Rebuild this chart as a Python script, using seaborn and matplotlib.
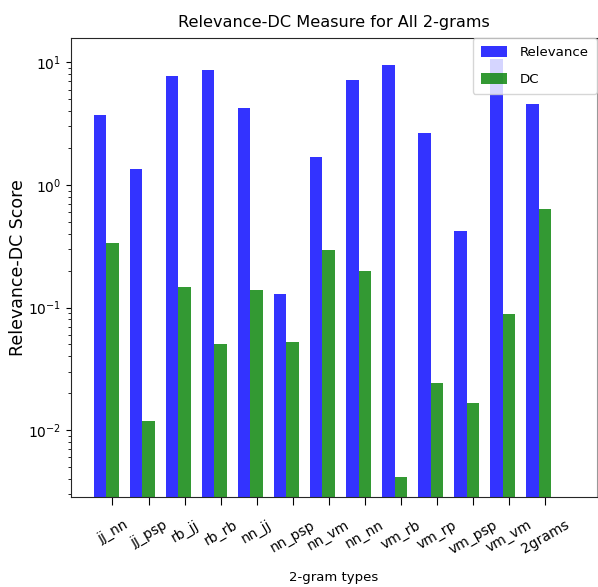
import numpy as np
import pandas as pd
import matplotlib
matplotlib.use("Agg")
import matplotlib.pyplot as plt
import seaborn as sns
from matplotlib.patches import Patch

categories = ["jj_nn", "jj_psp", "rb_jj", "rb_rb", "nn_jj", "nn_psp", "nn_vm",
              "nn_nn", "vm_rb", "vm_rp", "vm_psp", "vm_vm", "2grams"]
relevance = [3.70, 1.36, 7.78, 8.70, 4.27, 0.130, 1.68, 7.21, 9.46, 2.64, 0.418, 10.6, 4.59]
dc = [0.338, 0.0118, 0.146, 0.0507, 0.139, 0.052, 0.293, 0.199, 0.00412, 0.0241, 0.0166, 0.0881, 0.632]

W = 0.35
idx = np.arange(len(categories))
df_rel = pd.DataFrame({"pos": idx.astype(float), "score": relevance})
df_dc = pd.DataFrame({"pos": idx + W, "score": dc})

fig = plt.figure(figsize=(5.98, 5.87), dpi=100)
ax = fig.add_axes([71/598, 1 - 497/587, (597 - 71)/598, (497 - 38)/587])

sns.barplot(data=df_rel, x="pos", y="score", native_scale=True, width=W,
            color="b", saturation=1, alpha=0.8, errorbar=None, linewidth=0, ax=ax)
sns.barplot(data=df_dc, x="pos", y="score", native_scale=True, width=W,
            color="g", saturation=1, alpha=0.8, errorbar=None, linewidth=0, ax=ax)

ax.set_yscale("log")
ax.set_ylim(0.00285, 15.8)
ax.set_xlim(-0.80, 13.79)
ax.set_xticks(idx + W)
ax.set_xticklabels(categories, rotation=30, fontsize=10)
ax.tick_params(axis="x", length=6, pad=9)
ax.tick_params(axis="y", labelsize=10)
ax.set_xlabel("2-gram types", fontsize=9.5, labelpad=10)
ax.set_ylabel("Relevance-DC Score", fontsize=12.5, labelpad=1)
ax.set_title("Relevance-DC Measure for All 2-grams", fontsize=11.6, pad=8)
for s in ax.spines.values():
    s.set_color("0.15")
ax.spines["right"].set_color("0.6")

handles = [Patch(facecolor="b", alpha=0.8, label="Relevance"),
           Patch(facecolor="g", alpha=0.8, label="DC")]
ax.legend(handles=handles, loc="upper right", borderaxespad=0, fontsize=9.6,
          labelspacing=1.05, handleheight=0.85, handletextpad=0.95, borderpad=0.6)

fig.savefig("out.png", dpi=100)
